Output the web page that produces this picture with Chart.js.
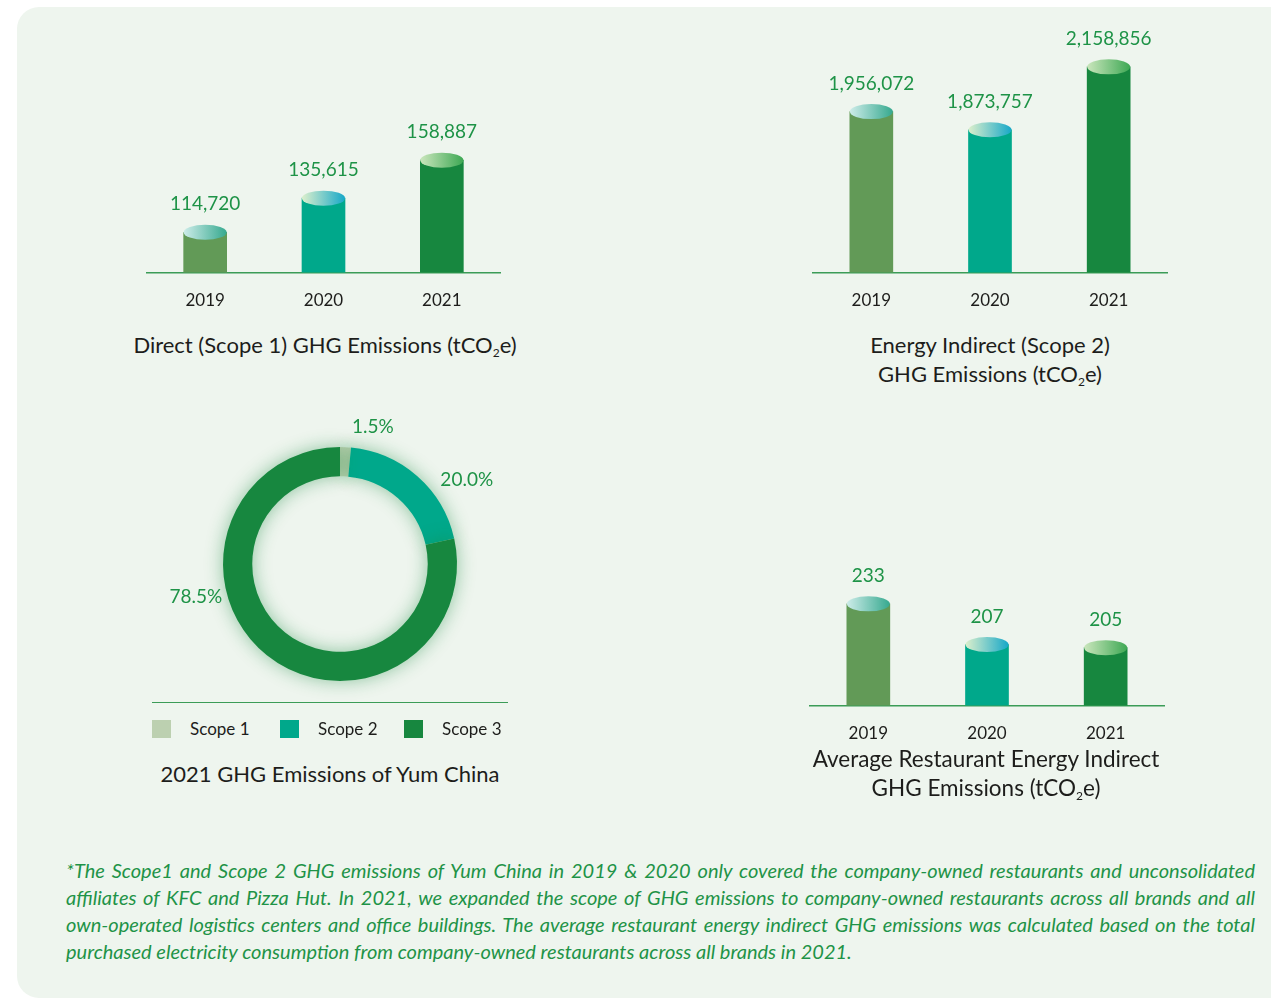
<!DOCTYPE html>
<html>
<head>
<meta charset="utf-8">
<script src="https://cdn.jsdelivr.net/npm/chart.js@4.4.0/dist/chart.umd.min.js"></script>
<style>
  body { margin: 0; background: #fff; font-family: Lato, "Open Sans", sans-serif; }
  #panel { position: absolute; left: 17px; top: 7px; width: 1280px; height: 991px; background: #eef5ee; border-radius: 22px; }
  .box { position: absolute; }
  .title { position: absolute; color: #1d1d1b; font-size: 22px; text-align: center; line-height: 29px; }
  .title sub { font-size: 12px; vertical-align: -4px; line-height: 0; }
  #legend { position: absolute; left: 152px; top: 718px; font-size: 17px; color: #1d1d1b; }
  #legend span.item { position: absolute; top: 0; white-space: nowrap; }
  #legend i { position: absolute; top: 2px; width: 19px; height: 18px; }
  #legendLine { position: absolute; left: 152px; top: 702px; width: 356px; height: 1px; background: #3b9c57; }
  #note { position: absolute; left: 66px; top: 857px; width: 1189px; color: #1e9347; font-style: italic; font-size: 20px; line-height: 27px; }
  #note div { text-align: justify; text-align-last: justify; white-space: nowrap; }
  #note div.last { text-align-last: left; }
</style>
</head>
<body>
<div id="panel"></div>

<div class="box" style="left:146px;top:100px;width:355px;height:229px"><canvas id="c1"></canvas></div>
<div class="box" style="left:812px;top:20px;width:356px;height:309px"><canvas id="c2"></canvas></div>
<div class="box" style="left:140px;top:419px;width:400px;height:290px"><canvas id="c3"></canvas></div>
<div class="box" style="left:809px;top:540px;width:356px;height:222px"><canvas id="c4"></canvas></div>

<div class="title" style="left:100px;top:330px;width:450px">Direct (Scope 1) GHG Emissions (tCO<sub>2</sub>e)</div>
<div class="title" style="left:765px;top:330px;width:450px">Energy Indirect (Scope 2)<br>GHG Emissions (tCO<sub>2</sub>e)</div>
<div id="legendLine"></div>
<div id="legend"></div>
<div class="title" style="left:105px;top:759px;width:450px">2021 GHG Emissions of Yum China</div>
<div class="title" style="left:761px;top:744px;width:450px;font-size:22.5px">Average Restaurant Energy Indirect<br>GHG Emissions (tCO<sub>2</sub>e)</div>

<div id="note">
  <div>*The Scope1 and Scope 2 GHG emissions of Yum China in 2019 &amp; 2020 only covered the company-owned restaurants and unconsolidated</div>
  <div>affiliates of KFC and Pizza Hut. In 2021, we expanded the scope of GHG emissions to company-owned restaurants across all brands and all</div>
  <div>own-operated logistics centers and office buildings. The average restaurant energy indirect GHG emissions was calculated based on the total</div>
  <div class="last">purchased electricity consumption from company-owned restaurants across all brands in 2021.</div>
</div>

<script>
// data
const years = ['2019', '2020', '2021'];
const scope1 = [114720, 135615, 158887];
const scope2 = [1956072, 1873757, 2158856];
const avgRestaurant = [233, 207, 205];
const shareLabels = ['Scope 1', 'Scope 2', 'Scope 3'];
const shareValues = [1.5, 20.0, 78.5];

// look
const barColors = ['#629a57', '#00a88b', '#17873f'];
const capColors = [['#cdece9', '#36a98f'], ['#dcefcc', '#17a8c8'], ['#cae6bc', '#3ea854']];
const pieColors = ['#bcd0b0', '#00a88b', '#17873f'];
const labelGreen = '#1e9347';
const labelAngles = [13.5, 56.5, 257];   // degrees clockwise from top
const labelDist = [141, 152, 148];

// cylinder caps + value labels
const cylinder = {
  id: 'cylinder',
  afterDatasetsDraw(chart) {
    const ctx = chart.ctx;
    const meta = chart.getDatasetMeta(0);
    const vals = chart.data.datasets[0].data;
    meta.data.forEach((bar, i) => {
      const w = bar.width, rx = w / 2, ry = 7.5;
      ctx.save();
      // bottom half ellipse
      ctx.fillStyle = barColors[i];
      ctx.beginPath();
      ctx.ellipse(bar.x, bar.base, rx, ry, 0, 0, Math.PI);
      ctx.fill();
      // top cap
      const g = ctx.createLinearGradient(bar.x - rx, 0, bar.x + rx, 0);
      g.addColorStop(0, capColors[i][0]);
      g.addColorStop(1, capColors[i][1]);
      ctx.fillStyle = g;
      ctx.beginPath();
      ctx.ellipse(bar.x, bar.y, rx, ry, 0, 0, Math.PI * 2);
      ctx.fill();
      // value
      ctx.fillStyle = labelGreen;
      ctx.font = '19px Lato';
      ctx.textAlign = 'center';
      ctx.textBaseline = 'middle';
      ctx.fillText(vals[i].toLocaleString('en-US'), bar.x, bar.y - 28);
      ctx.restore();
    });
  }
};

function barChart(id, values, yMin, yMax, padTop) {
  new Chart(document.getElementById(id), {
    type: 'bar',
    data: {
      labels: years,
      datasets: [{ data: values, backgroundColor: barColors, barThickness: 43, borderWidth: 0 }]
    },
    options: {
      responsive: true,
      maintainAspectRatio: false,
      animation: false,
      layout: { padding: { top: padTop, left: 0, right: 0, bottom: 0 } },
      plugins: { legend: { display: false }, tooltip: { enabled: false } },
      scales: {
        x: {
          grid: { display: false, drawTicks: false },
          border: { display: true, color: '#3b9c57', width: 1.5 },
          ticks: { color: '#1d1d1b', font: { family: 'Lato', size: 17 }, padding: 18 }
        },
        y: { display: false, min: yMin, max: yMax }
      }
    },
    plugins: [cylinder]
  });
}

barChart('c1', scope1, 90000, 183500, 20);
barChart('c2', scope2, 1226000, 2190000, 40);
barChart('c4', avgRestaurant, 168, 261, 20);

// doughnut
const glow = {
  id: 'glow',
  beforeDatasetDraw(chart) {
    chart.ctx.save();
    chart.ctx.shadowColor = 'rgba(23,135,63,0.45)';
    chart.ctx.shadowBlur = 18;
  },
  afterDatasetDraw(chart) { chart.ctx.restore(); },
  afterDraw(chart) {
    const ctx = chart.ctx;
    const arcs = chart.getDatasetMeta(0).data;
    ctx.save();
    ctx.fillStyle = labelGreen;
    ctx.font = '19px Lato';
    ctx.textAlign = 'center';
    ctx.textBaseline = 'middle';
    arcs.forEach((a, i) => {
      const ang = labelAngles[i] * Math.PI / 180;
      const x = a.x + Math.sin(ang) * labelDist[i];
      const y = a.y - Math.cos(ang) * labelDist[i];
      ctx.fillText(shareValues[i].toFixed(1) + '%', x, y);
    });
    ctx.restore();
  }
};

new Chart(document.getElementById('c3'), {
  type: 'doughnut',
  data: {
    labels: shareLabels,
    datasets: [{ data: shareValues, backgroundColor: pieColors, borderWidth: 0 }]
  },
  options: {
    responsive: true,
    maintainAspectRatio: false,
    animation: false,
    cutout: '75%',
    layout: { padding: 28 },
    plugins: { legend: { display: false }, tooltip: { enabled: false } }
  },
  plugins: [glow]
});

// legend
const legendPos = [0, 128, 252];
const legend = document.getElementById('legend');
shareLabels.forEach((l, i) => {
  const s = document.createElement('span');
  s.className = 'item';
  s.style.left = legendPos[i] + 'px';
  s.innerHTML = '<i style="background:' + pieColors[i] + '"></i><span style="margin-left:38px">' + l + '</span>';
  legend.appendChild(s);
});
</script>
</body>
</html>
